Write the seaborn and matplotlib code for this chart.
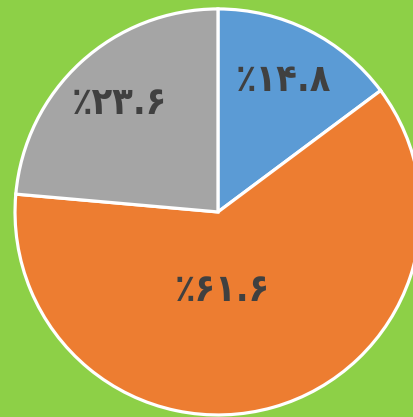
import matplotlib
matplotlib.use("Agg")
import matplotlib.pyplot as plt
import seaborn as sns

# slice shares (percent), clockwise from 12 o'clock
shares = [14.8, 61.6, 23.6]
colors = ["#5B9BD5", "#ED7D31", "#A5A5A5"]
persian = str.maketrans("0123456789", "۰۱۲۳۴۵۶۷۸۹")

sns.set_style("white")
plt.rcParams["font.family"] = ["DejaVu Sans"]

fig = plt.figure(figsize=(4.14, 4.17), dpi=100, facecolor="#8DD047")
ax = fig.add_axes([0, 0, 1, 1])
ax.set_facecolor("#8DD047")

def fmt(p):
    return "٪" + ("%.1f" % p).translate(persian)

wedges, texts, autotexts = ax.pie(
    shares, colors=colors, startangle=90, counterclock=False,
    autopct=fmt, pctdistance=0.72,
    wedgeprops=dict(edgecolor="white", linewidth=2.3),
    textprops=dict(color="#404040", fontsize=27, fontweight="bold",
                   fontstretch="condensed"),
)
# the big slice label sits nearer the centre
autotexts[1].set_position((0.02, -0.39))

ax.set_xlim(-1.074, 0.966)
ax.set_ylim(-1.010, 1.044)
ax.set_aspect("auto")
ax.axis("off")

fig.savefig("out.png", dpi=100, facecolor=fig.get_facecolor())
